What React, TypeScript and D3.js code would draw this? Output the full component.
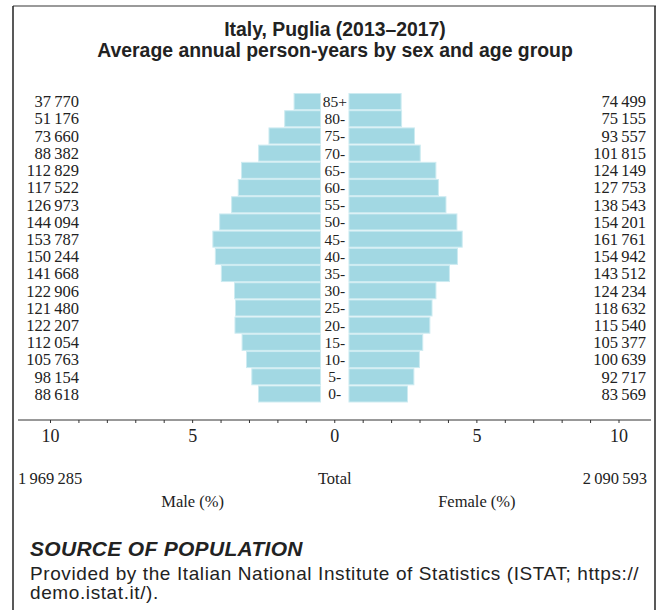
import React from "react";
import * as d3 from "d3";

const ages = ["0-", "5-", "10-", "15-", "20-", "25-", "30-", "35-", "40-", "45-", "50-", "55-", "60-", "65-", "70-", "75-", "80-", "85+"];
const male = [88618, 98154, 105763, 112054, 122207, 121480, 122906, 141668, 150244, 153787, 144094, 126973, 117522, 112829, 88382, 73660, 51176, 37770];
const female = [83569, 92717, 100639, 105377, 115540, 118632, 124234, 143512, 154942, 161761, 154201, 138543, 127753, 124149, 101815, 93557, 75155, 74499];
const maleTotal = 1969285;
const femaleTotal = 2090593;
const tickValues = d3.range(-10, 11, 1);
const labelTicks = [-10, -5, 0, 5, 10];

const title1 = "Italy, Puglia (2013\u20132017)";
const title2 = "Average annual person-years by sex and age group";
const sourceHead = "SOURCE OF POPULATION";
const sourceLines = [
  "Provided by the Italian National Institute of Statistics (ISTAT; https://",
  "demo.istat.it/).",
];

const W = 658;
const H = 610;
const serif = "'Liberation Serif', 'DejaVu Serif', serif";
const sans = "'Liberation Sans', Arial, sans-serif";
const fmt = (v: number) => d3.format(",")(v).replace(/,/g, "\u2009");

export default function App() {
  const grand = maleTotal + femaleTotal;
  const x = d3.scaleLinear().domain([-10, 10]).range([50.5, 619]);
  const y = d3
    .scaleBand<string>()
    .domain([...ages].reverse())
    .range([93, 402.5])
    .paddingInner(0.07)
    .paddingOuter(0.03);
  const gap = 0.5;
  const axisY = 420;
  const barFill = "#a2d8e3";
  const barStroke = "#cdebf1";

  return (
    <svg
      width={W}
      height={H}
      style={{ position: "absolute", left: 0, top: 0, background: "#fff" }}
    >
      {/* frame */}
      <line x1={13} x2={656} y1={6} y2={6} stroke="#9a9a9a" strokeWidth={2} />
      <line x1={13} x2={13} y1={6} y2={H} stroke="#222" strokeWidth={1.5} />
      <line x1={655} x2={655} y1={6} y2={H} stroke="#222" strokeWidth={1.5} />

      {/* title */}
      <text x={335} y={36} textAnchor="middle" fontFamily={sans} fontWeight="bold" fontSize={19.4} fill="#222">
        {title1}
      </text>
      <text x={335} y={57} textAnchor="middle" fontFamily={sans} fontWeight="bold" fontSize={19.4} fill="#222">
        {title2}
      </text>

      {/* bars */}
      {ages.map((a, i) => {
        const yy = y(a)!;
        const bh = y.bandwidth();
        const mp = (male[i] / grand) * 100;
        const fp = (female[i] / grand) * 100;
        const xm0 = x(-gap - mp);
        const xm1 = x(-gap);
        const xf0 = x(gap);
        const xf1 = x(gap + fp);
        const cy = yy + bh / 2;
        return (
          <g key={a}>
            <rect x={xm0} y={yy} width={xm1 - xm0} height={bh} fill={barFill} stroke={barStroke} strokeWidth={1} />
            <rect x={xf0} y={yy} width={xf1 - xf0} height={bh} fill={barFill} stroke={barStroke} strokeWidth={1} />
            <text x={x(0)} y={cy} dy="0.35em" textAnchor="middle" fontFamily={serif} fontSize={15.5} fill="#222">
              {a}
            </text>
            <text x={79} y={cy} dy="0.35em" textAnchor="end" fontFamily={serif} fontSize={16.5} fill="#222">
              {fmt(male[i])}
            </text>
            <text x={646} y={cy} dy="0.35em" textAnchor="end" fontFamily={serif} fontSize={16.5} fill="#222">
              {fmt(female[i])}
            </text>
          </g>
        );
      })}

      {/* axis */}
      <line x1={18} x2={651} y1={axisY} y2={axisY} stroke="#333" strokeWidth={1} />
      {tickValues.map((t) => (
        <line key={t} x1={x(t)} x2={x(t)} y1={axisY} y2={axisY + 3} stroke="#333" strokeWidth={1} />
      ))}
      {labelTicks.map((t) => (
        <text key={t} x={x(t)} y={442} textAnchor="middle" fontFamily={serif} fontSize={18} fill="#222">
          {Math.abs(t)}
        </text>
      ))}

      {/* totals */}
      <text x={18} y={484} textAnchor="start" fontFamily={serif} fontSize={16.5} fill="#222">
        {fmt(maleTotal)}
      </text>
      <text x={x(0)} y={484} textAnchor="middle" fontFamily={serif} fontSize={16.5} fill="#222">
        Total
      </text>
      <text x={647} y={484} textAnchor="end" fontFamily={serif} fontSize={16.5} fill="#222">
        {fmt(femaleTotal)}
      </text>
      <text x={x(-5)} y={507} textAnchor="middle" fontFamily={serif} fontSize={16.5} fill="#222">
        Male (%)
      </text>
      <text x={x(5)} y={507} textAnchor="middle" fontFamily={serif} fontSize={16.5} fill="#222">
        Female (%)
      </text>

      {/* source */}
      <text x={30} y={556} fontFamily={sans} fontWeight="bold" fontStyle="italic" fontSize={21} letterSpacing={0.3} fill="#222">
        {sourceHead}
      </text>
      {sourceLines.map((l, i) => (
        <text key={i} x={30} y={580 + i * 19} fontFamily={sans} fontSize={19} letterSpacing={0.6} fill="#222">
          {l}
        </text>
      ))}
    </svg>
  );
}
